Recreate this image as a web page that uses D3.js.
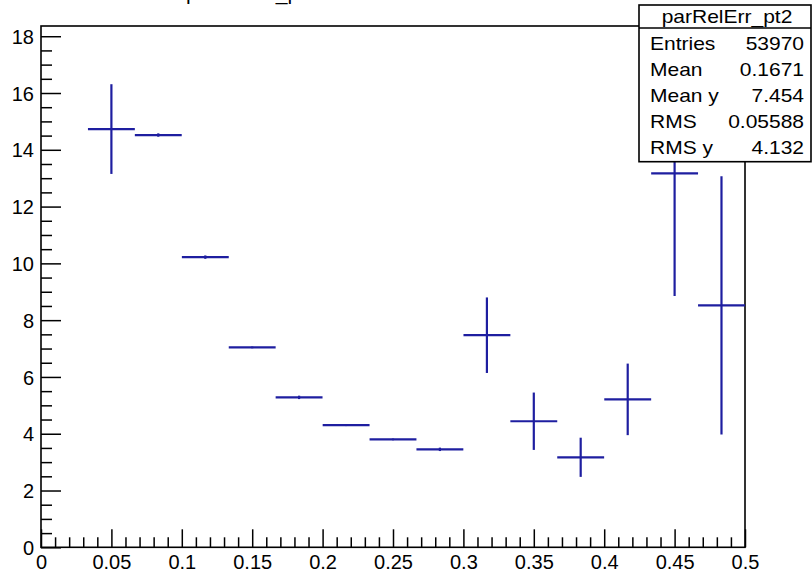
<!DOCTYPE html>
<html>
<head>
<meta charset="utf-8">
<script src="https://cdn.jsdelivr.net/npm/d3@7"></script>
<style>
  html, body { margin: 0; padding: 0; background: #fff; }
  svg { display: block; }
  text { font-family: "Liberation Sans", Arial, Helvetica, sans-serif; fill: #000; }
</style>
</head>
<body>
<svg id="chart" width="812" height="576"></svg>
<script>
// ---- data ----
const binCenters = [0.05, 0.0833, 0.1167, 0.15, 0.1833, 0.2167, 0.25, 0.2833, 0.3167, 0.35, 0.3833, 0.4167, 0.45, 0.4833];
const binWidth = 0.0333;
const binMeans  = [14.73, 14.52, 10.22, 7.04, 5.28, 4.30, 3.80, 3.45, 7.47, 4.44, 3.17, 5.21, 13.17, 8.52];
const binErrors = [1.58, 0.06, 0.06, 0.03, 0.06, 0.03, 0.03, 0.06, 1.33, 1.01, 0.69, 1.26, 4.32, 4.55];
const xMajorTicks = [0, 0.05, 0.1, 0.15, 0.2, 0.25, 0.3, 0.35, 0.4, 0.45, 0.5];
const xTickLabels = ["0", "0.05", "0.1", "0.15", "0.2", "0.25", "0.3", "0.35", "0.4", "0.45", "0.5"];
const yMajorTicks = [0, 2, 4, 6, 8, 10, 12, 14, 16, 18];
const yTickLabels = ["0", "2", "4", "6", "8", "10", "12", "14", "16", "18"];
const xDomain = [0, 0.5];
const yDomain = [0, 18.36];
const histTitle = "parRelErr_pt2";
const statNames  = ["Entries", "Mean", "Mean y", "RMS", "RMS y"];
const statValues = ["53970", "0.1671", "7.454", "0.05588", "4.132"];

// ---- layout ----
const svg = d3.select("#chart");
const L = 41, R = 745, T = 26, B = 547.3;
const x = d3.scaleLinear().domain(xDomain).range([L, R]);
const y = d3.scaleLinear().domain(yDomain).range([B, T]);
const markColor = "#1e1ea0";

// title fragment (mostly outside the view, as in the reference)
svg.append("text").attr("x", 186).attr("y", 0)
  .attr("font-size", 21).text(histTitle);

// minor ticks
const xMinor = d3.range(0, 0.5001, 0.01).filter(v => Math.abs(v / 0.05 - Math.round(v / 0.05)) > 1e-6);
const yMinor = d3.range(0, 18.001, 0.5).filter(v => v % 2 !== 0);

const tickStyle = g => {
  g.select(".domain").remove();
  g.selectAll(".tick line").attr("stroke", "#000").attr("stroke-width", 1.5);
  g.selectAll(".tick text").attr("font-family", "Liberation Sans, Arial, sans-serif").attr("fill", "#000");
};

svg.append("g").attr("transform", `translate(0,${B})`)
  .call(d3.axisBottom(x).tickValues(xMinor).tickSize(-10).tickFormat(""))
  .call(tickStyle);
svg.append("g").attr("transform", `translate(0,${B})`)
  .call(d3.axisBottom(x).tickValues(xMajorTicks).tickSize(-18).tickPadding(5)
    .tickFormat((d, i) => xTickLabels[i]))
  .call(tickStyle)
  .call(g => g.selectAll(".tick text").attr("font-size", 20).attr("dy", "0.72em").attr("y", 7.5));

svg.append("g").attr("transform", `translate(${L},0)`)
  .call(d3.axisLeft(y).tickValues(yMinor).tickSize(-11).tickFormat(""))
  .call(tickStyle);
svg.append("g").attr("transform", `translate(${L},0)`)
  .call(d3.axisLeft(y).tickValues(yMajorTicks).tickSize(-20).tickPadding(7)
    .tickFormat((d, i) => yTickLabels[i]))
  .call(tickStyle)
  .call(g => g.selectAll(".tick text").attr("font-size", 20).attr("dy", "0.36em"));

// frame
svg.append("rect").attr("x", L).attr("y", T).attr("width", R - L).attr("height", B - T)
  .attr("fill", "none").attr("stroke", "#000").attr("stroke-width", 1.6);

// profile points
const pts = svg.append("g").attr("stroke", markColor).attr("stroke-width", 2.2);
binCenters.forEach((c, i) => {
  pts.append("line")
    .attr("x1", x(c - binWidth / 2)).attr("x2", x(c + binWidth / 2))
    .attr("y1", y(binMeans[i])).attr("y2", y(binMeans[i]));
  pts.append("line")
    .attr("x1", x(c)).attr("x2", x(c))
    .attr("y1", y(binMeans[i] - binErrors[i])).attr("y2", y(binMeans[i] + binErrors[i]));
});

// stats box
const sb = { x0: 639, x1: 811, y0: 5, y1: 28, y2: 161.7 };
const box = svg.append("g");
box.append("rect").attr("x", sb.x0).attr("y", sb.y0).attr("width", sb.x1 - sb.x0).attr("height", sb.y2 - sb.y0)
  .attr("fill", "#fff").attr("stroke", "#000").attr("stroke-width", 1.6);
box.append("line").attr("x1", sb.x0).attr("x2", sb.x1).attr("y1", sb.y1).attr("y2", sb.y1)
  .attr("stroke", "#000").attr("stroke-width", 1.4);
const sx = 1.2;
box.append("text").attr("transform", `translate(${(sb.x0 + sb.x1) / 2 + 2},23) scale(${sx},1)`)
  .attr("text-anchor", "middle").attr("font-size", 17.5).text(histTitle);
statNames.forEach((n, i) => {
  const by = 50 + i * 26;
  box.append("text").attr("transform", `translate(650,${by}) scale(${sx},1)`)
    .attr("font-size", 17.5).text(n);
  box.append("text").attr("transform", `translate(804,${by}) scale(${sx},1)`)
    .attr("text-anchor", "end").attr("font-size", 17.5).text(statValues[i]);
});
</script>
</body>
</html>
